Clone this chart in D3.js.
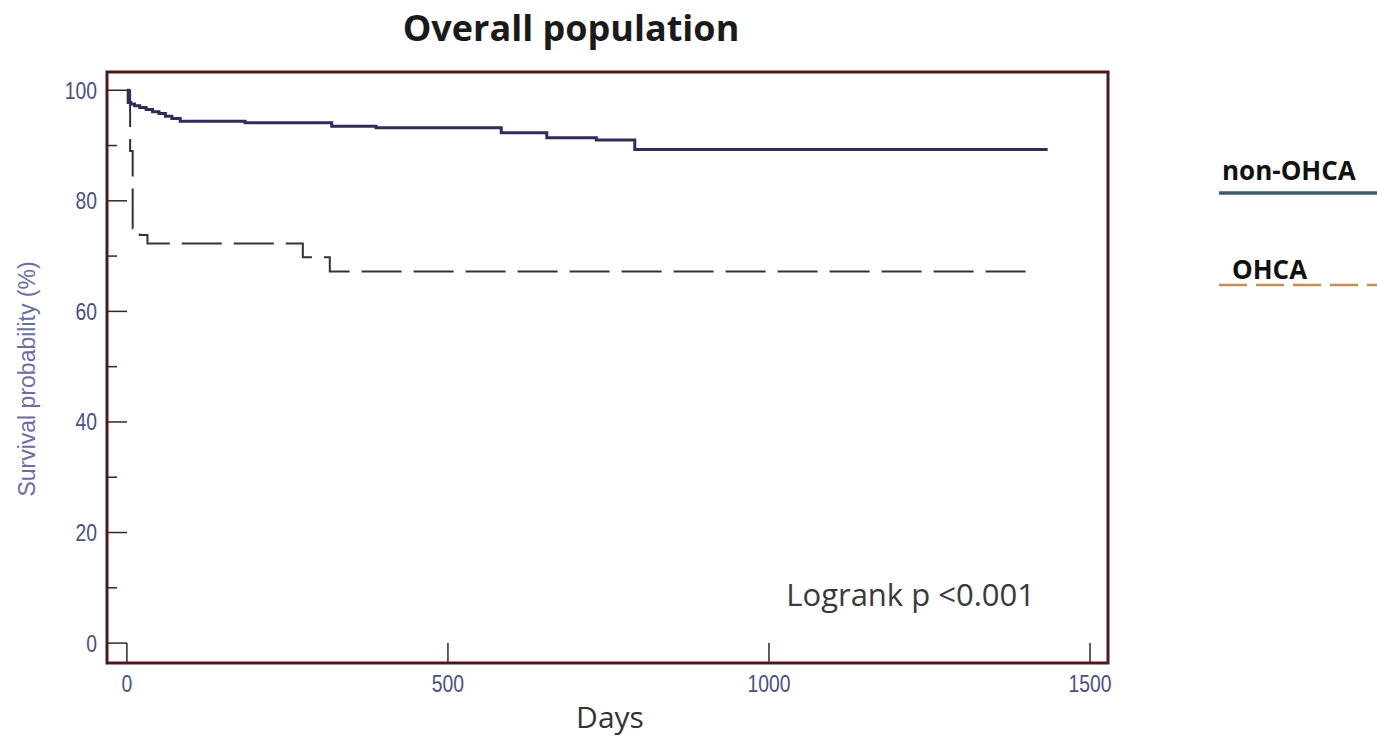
<!DOCTYPE html>
<html>
<head>
<meta charset="utf-8">
<script src="https://cdn.jsdelivr.net/npm/d3@7"></script>
<style>
  html, body { margin: 0; padding: 0; background: #ffffff; }
  svg { display: block; }
</style>
</head>
<body>
<svg id="chart" width="1377" height="738"></svg>
<script>
// ---- data ----
const title = "Overall population";
const xLabel = "Days";
const yLabel = "Survival probability (%)";
const annotation = "Logrank p <0.001";
const seriesNames = ["non-OHCA", "OHCA"];

// Kaplan–Meier steps: [day, survival %]
const nonOhcaDays = [0, 2, 6, 12, 20, 30, 40, 50, 60, 70, 83, 184, 319, 388, 583, 654, 731, 791, 1434];
const nonOhcaSurv = [100, 97.8, 97.5, 97.2, 96.9, 96.5, 96.1, 95.8, 95.3, 94.9, 94.4, 94.1, 93.5, 93.2, 92.3, 91.4, 91.0, 89.3, 89.3];
const ohcaDays = [0, 5, 9, 20, 32, 274, 316, 1411];
const ohcaSurv = [100, 89.0, 75.0, 73.8, 72.3, 69.8, 67.2, 67.2];

const xTicks = [0, 500, 1000, 1500];
const yTicks = [0, 20, 40, 60, 80, 100];
const yMinorTicks = [10, 30, 50, 70, 90];

// ---- layout ----
const svg = d3.select("#chart");
const frame = { left: 107, right: 1108, top: 72, bottom: 663 };

const x = d3.scaleLinear().domain([-31, 1528]).range([frame.left, frame.right]);
const y = d3.scaleLinear().domain([-3.6, 103.3]).range([frame.bottom, frame.top]);

const frameColor = "#4a1a1c";
const tickLabelColor = "#4b4f86";

// ticks (inside)
const g = svg.append("g");
g.selectAll(".ytick").data(yTicks).enter().append("line")
  .attr("x1", frame.left).attr("x2", frame.left + 20)
  .attr("y1", d => y(d)).attr("y2", d => y(d))
  .attr("stroke", "#3a2424").attr("stroke-width", 1.5);
g.selectAll(".yminor").data(yMinorTicks).enter().append("line")
  .attr("x1", frame.left).attr("x2", frame.left + 10)
  .attr("y1", d => y(d)).attr("y2", d => y(d))
  .attr("stroke", "#3a2424").attr("stroke-width", 1.5);
g.selectAll(".xtick").data(xTicks).enter().append("line")
  .attr("x1", d => x(d)).attr("x2", d => x(d))
  .attr("y1", frame.bottom).attr("y2", frame.bottom - 20)
  .attr("stroke", "#3a2424").attr("stroke-width", 1.5);

// tick labels (narrow, tall digits)
g.selectAll(".ylab").data(yTicks).enter().append("text")
  .attr("transform", d => `translate(${frame.left - 10},${y(d)}) scale(0.92,1.12)`)
  .attr("dy", "0.36em")
  .attr("text-anchor", "end")
  .attr("font-family", "Liberation Sans, Arial, sans-serif")
  .attr("font-size", 21)
  .attr("fill", tickLabelColor)
  .text(d => d);
g.selectAll(".xlab").data(xTicks).enter().append("text")
  .attr("transform", d => `translate(${x(d)},${frame.bottom + 29}) scale(0.92,1.12)`)
  .attr("text-anchor", "middle")
  .attr("font-family", "Liberation Sans, Arial, sans-serif")
  .attr("font-size", 21)
  .attr("fill", tickLabelColor)
  .text(d => d);

// curves
const line = d3.line().x(d => x(d[0])).y(d => y(d[1])).curve(d3.curveStepAfter);
const nonOhca = nonOhcaDays.map((d, i) => [d, nonOhcaSurv[i]]);
const ohca = ohcaDays.map((d, i) => [d, ohcaSurv[i]]);

svg.append("path").datum(ohca)
  .attr("d", line)
  .attr("fill", "none")
  .attr("stroke", "#35303a")
  .attr("stroke-width", 2)
  .attr("stroke-dasharray", "40,12");

svg.append("path").datum(nonOhca)
  .attr("d", line)
  .attr("fill", "none")
  .attr("stroke", "#2c2d5c")
  .attr("stroke-width", 3);

// frame
svg.append("rect")
  .attr("x", frame.left).attr("y", frame.top)
  .attr("width", frame.right - frame.left)
  .attr("height", frame.bottom - frame.top)
  .attr("fill", "none")
  .attr("stroke", frameColor)
  .attr("stroke-width", 3);

// title
svg.append("text")
  .attr("x", 571).attr("y", 41)
  .attr("text-anchor", "middle")
  .attr("font-family", "Open Sans, sans-serif")
  .attr("font-weight", "bold")
  .attr("font-size", 36)
  .attr("fill", "#1a1a1a")
  .text(title);

// axis titles
svg.append("text")
  .attr("x", 610).attr("y", 728)
  .attr("text-anchor", "middle")
  .attr("font-family", "Open Sans, sans-serif")
  .attr("font-size", 30)
  .attr("fill", "#333333")
  .text(xLabel);

svg.append("text")
  .attr("transform", "translate(35,379) rotate(-90)")
  .attr("text-anchor", "middle")
  .attr("font-family", "Liberation Sans, Arial, sans-serif")
  .attr("font-size", 23)
  .attr("fill", "#6a6ea6")
  .text(yLabel);

// annotation
svg.append("text")
  .attr("x", 1035).attr("y", 606)
  .attr("text-anchor", "end")
  .attr("font-family", "Open Sans, sans-serif")
  .attr("font-size", 31)
  .attr("fill", "#3a3a3a")
  .text(annotation);

// legend
const legend = svg.append("g");
legend.append("text")
  .attr("x", 1222).attr("y", 180)
  .attr("font-family", "Open Sans, sans-serif")
  .attr("font-weight", "bold")
  .attr("font-size", 26)
  .attr("fill", "#111111")
  .text(seriesNames[0]);
legend.append("line")
  .attr("x1", 1219).attr("x2", 1377).attr("y1", 193).attr("y2", 193)
  .attr("stroke", "#3f5b74").attr("stroke-width", 3.5);

legend.append("text")
  .attr("x", 1232).attr("y", 279)
  .attr("font-family", "Open Sans, sans-serif")
  .attr("font-weight", "bold")
  .attr("font-size", 26)
  .attr("fill", "#111111")
  .text(seriesNames[1]);
legend.append("line")
  .attr("x1", 1219).attr("x2", 1377).attr("y1", 285).attr("y2", 285)
  .attr("stroke", "#c28f50").attr("stroke-width", 2.5)
  .attr("stroke-dasharray", "28,9");
</script>
</body>
</html>
